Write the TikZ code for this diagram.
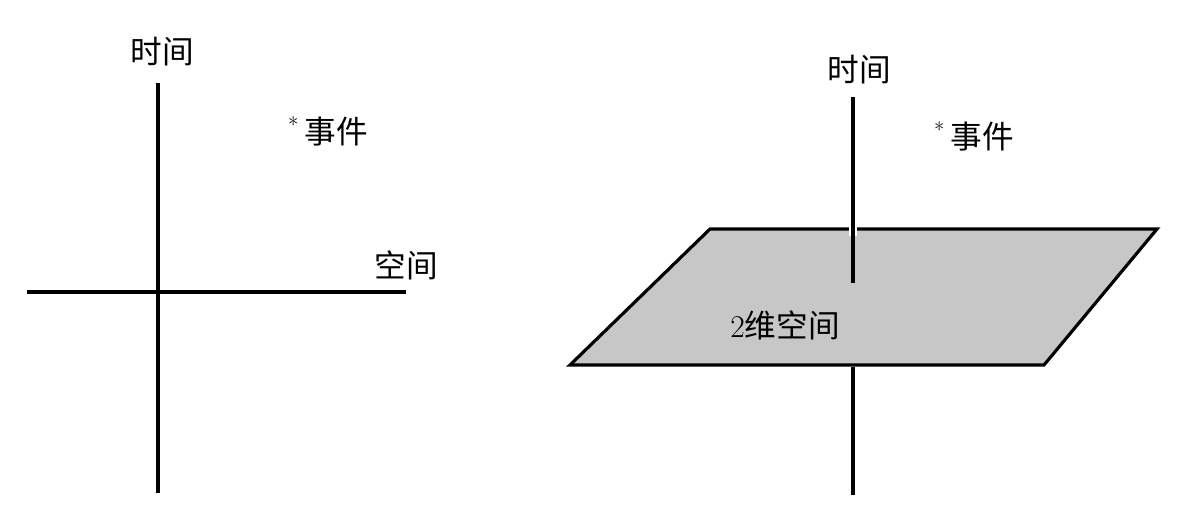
\documentclass[tikz,border=0pt]{standalone}
\usepackage{fontspec}
\newfontfamily\cjk{Noto Sans CJK SC}
\begin{document}
\begin{tikzpicture}[x=0.02cm, y=-0.02cm,
  axis/.style={line width=1.8pt, black},
  lbl/.style={font=\fontsize{18}{20}\selectfont\cjk, inner sep=0pt}]
\useasboundingbox (0,0) rectangle (1183,521);

\def\xl{158};
\def\yl{292};
\def\xr{853};

% left: time against space
\coordinate (tTop) at (\xl, 83);
\coordinate (tBot) at (\xl, 493);
\coordinate (sL) at (27, \yl);
\coordinate (sR) at (406, \yl);
\draw[axis] (tTop) -- (tBot);
\draw[axis] (sL) -- (sR);

\node[lbl] (time) at (162, 52) {时间};
\node[lbl] (event) at (328, 131) {\textsuperscript{\rmfamily\large *}\,事件};
\node[lbl] (space) at (406, 265) {空间};

% right: time against a 2d plane
\coordinate (pA) at (710, 229);
\coordinate (pB) at (1157, 229);
\coordinate (pC) at (1044, 365);
\coordinate (pD) at (570, 365);
\filldraw[axis, fill=black!22, line join=miter] (pA) -- (pB) -- (pC) -- (pD) -- cycle;

\coordinate (rTop) at (\xr, 97);
\coordinate (rMid) at (\xr, 283);
\coordinate (rLow) at (\xr, 367);
\coordinate (rBot) at (\xr, 495);
\draw[line width=4.5pt, white] (\xr, 222) -- (\xr, 236);
\draw[axis] (rTop) -- (rMid);
\draw[axis] (rLow) -- (rBot);

\node[lbl] (time2) at (859, 70) {时间};
\node[lbl] (event2) at (974, 136) {\textsuperscript{\rmfamily\large *}\,事件};
\node[lbl] (plane) at (785, 325) {{\rmfamily 2}维空间};

\end{tikzpicture}
\end{document}
